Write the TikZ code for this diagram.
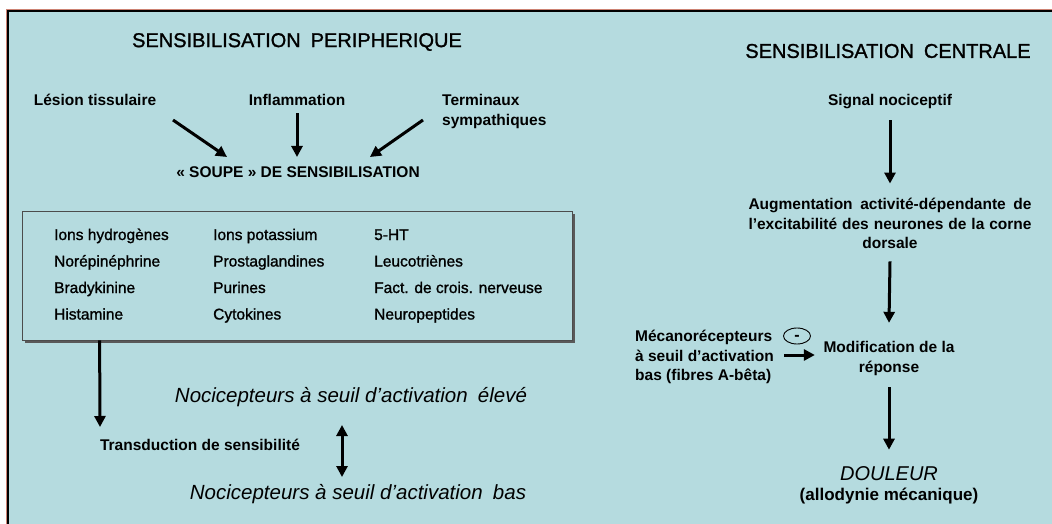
\documentclass[tikz,border=0pt]{standalone}
\usepackage{fontspec}
\setmainfont{Liberation Sans}
\newfontfamily\demigras{Liberation Sans}[FakeBold=1.2]
\usetikzlibrary{arrows.meta,shapes.geometric,shadows}
\definecolor{fond}{RGB}{181,219,223}
\definecolor{liseret}{RGB}{205,130,115}

\begin{document}
\begin{tikzpicture}[x=1pt,y=-1pt,
  lbl/.style={inner sep=0pt,font=\fontsize{15.5}{19.5}\selectfont\bfseries,
    text height=11pt,text depth=3pt},
  lbls/.style={inner sep=0pt,font=\fontsize{15.5}{19.5}\selectfont\bfseries},
  titre/.style={inner sep=0pt,font=\fontsize{20}{24}\selectfont\demigras},
  item/.style={inner sep=0pt,anchor=west,font=\fontsize{15.5}{19}\selectfont\demigras,
    text height=11pt,text depth=3pt},
  ital/.style={inner sep=0pt,font=\fontsize{20.5}{24}\selectfont\itshape,
    text height=14pt,text depth=5pt},
  fleche/.style={line width=3pt,-{Triangle[length=11pt,width=11pt]}},
  ]
  % fond et cadre
  \useasboundingbox (0,0) rectangle (1052,524);
  \clip (0,0) rectangle (1052,524);
  \fill[white] (0,0) rectangle (1052,524);
  \draw[liseret,line width=0.8pt] (6.5,9.5) rectangle (1080,560);
  \draw[fill=fond,line width=1.6pt] (8,11) rectangle (1080,560);

  % sensibilisation peripherique
  \node[titre] (tper) at (297,42) {SENSIBILISATION\enspace PERIPHERIQUE};
  \node[lbl] (lesion) at (95,102) {Lésion tissulaire};
  \node[lbl] (infl) at (297,102) {Inflammation};
  \node[lbls,align=left,anchor=west] (term) at (442,111.5) {Terminaux\\sympathiques};
  \node[lbl] (soupe) at (298,174) {« SOUPE » DE SENSIBILISATION};

  \node[draw=black!70,line width=0.8pt,fill=fond,inner sep=0pt,
    minimum width=550pt,minimum height=129pt,
    drop shadow={shadow xshift=3pt,shadow yshift=-3pt,fill=black!65,opacity=1}]
    (liste) at (297,275.5) {};
  \foreach \a/\b/\c [count=\i] in {Ions hydrogènes/Ions potassium/5-HT,
      Norépinéphrine/Prostaglandines/Leucotriènes,
      Bradykinine/Purines/Fact. de crois. nerveuse,
      Histamine/Cytokines/Neuropeptides}{
    \node[item] (ca-\i) at (54,209.5+26.5*\i) {\a};
    \node[item] (cb-\i) at (213,209.5+26.5*\i) {\b};
    \node[item] (cc-\i) at (374,209.5+26.5*\i) {\c};
  }

  \node[lbl] (trans) at (200,446) {Transduction de sensibilité};
  \node[ital] (eleve) at (351,398) {Nocicepteurs à seuil d’activation\enspace élevé};
  \node[ital] (bas) at (358,495) {Nocicepteurs à seuil d’activation\enspace bas};

  \draw[fleche] ([shift={(78,18)}]lesion.center) -- ([shift={(-71,-17)}]soupe.center);
  \draw[fleche] ([shift={(0,4)}]infl.south) -- ([shift={(-1,-17)}]soupe.center);
  \draw[fleche] ([shift={(-19,8.5)}]term.west) -- ([shift={(72,-17)}]soupe.center);
  \draw[fleche] ([shift={(78,0)}]liste.south west) -- ([shift={(-100,-19)}]trans.center);
  \draw[line width=3pt,{Triangle[length=11pt,width=11pt]}-{Triangle[length=11pt,width=11pt]}]
    ([shift={(-9,27)}]eleve.center) -- ([shift={(-16,-18)}]bas.center);

  % sensibilisation centrale
  \node[titre] (tcen) at (888,51) {SENSIBILISATION\enspace CENTRALE};
  \node[lbl] (signal) at (890,102) {Signal nociceptif};
  \node[lbls,align=center] (augm) at (890,223.5)
    {\makebox[283pt][s]{Augmentation activité-dépendante de}\\
     \makebox[283pt][s]{l’excitabilité des neurones de la corne}\\dorsale};
  \node[lbls,align=center] (modif) at (889,358.5) {Modification de la\\réponse};
  \node[lbls,align=left,anchor=west] (meca) at (635,357)
    {Mécanorécepteurs\\à seuil d’activation\\bas (fibres A-bêta)};
  \node[draw,ellipse,line width=0.9pt,inner sep=0pt,minimum width=27pt,
    minimum height=16pt,font=\fontsize{16}{16}\selectfont\bfseries]
    (moins) at (797,336) {\smash{\raisebox{-4.3pt}{-}}};
  \node[inner sep=0pt,font=\fontsize{20}{24}\selectfont\itshape] (douleur) at (889,474) {DOULEUR};
  \node[inner sep=0pt,font=\fontsize{17}{20}\selectfont\bfseries] (allo) at (889,496) {(allodynie mécanique)};

  \draw[fleche] ([shift={(0,11)}]signal.south) -- ([shift={(0,-14.5)}]augm.north);
  \draw[fleche] ([shift={(0,12.5)}]augm.south) -- ([shift={(0,-18.5)}]modif.north);
  \draw[fleche] ([shift={(10,-2)}]meca.east) -- ([shift={(-8.5,-3.5)}]modif.west);
  \draw[fleche] ([shift={(0,11.5)}]modif.south) -- ([shift={(0,-17)}]douleur.north);
\end{tikzpicture}
\end{document}
